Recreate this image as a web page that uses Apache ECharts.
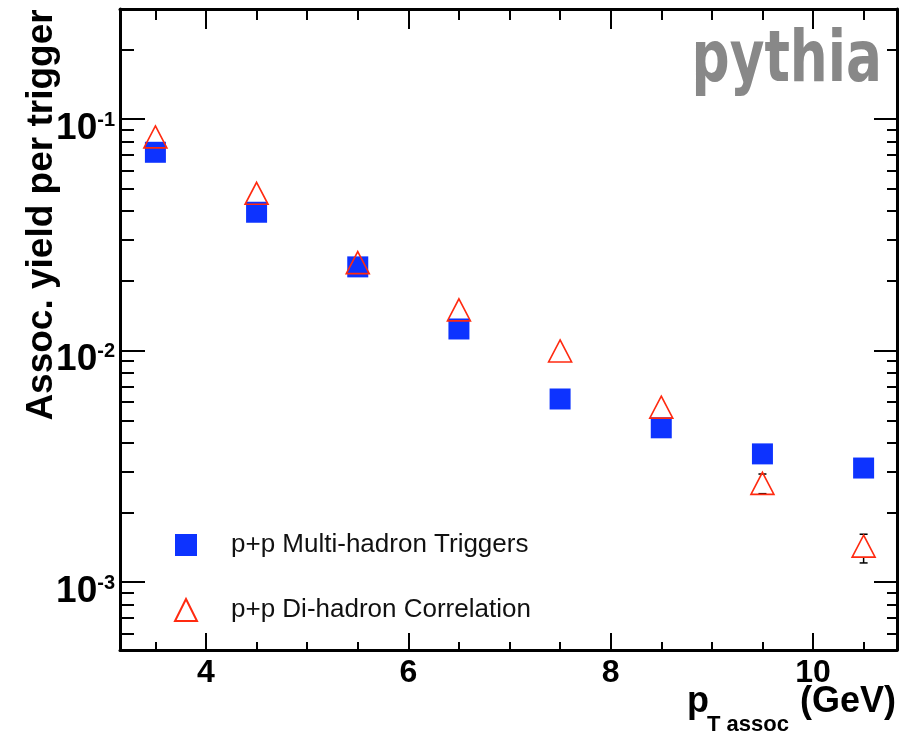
<!DOCTYPE html>
<html>
<head>
<meta charset="utf-8">
<script src="https://cdn.jsdelivr.net/npm/echarts@6/dist/echarts.min.js"></script>
<style>
html, body { margin: 0; padding: 0; background: #fff; }
#main { width: 909px; height: 733px; }
</style>
</head>
<body>
<div id="main"></div>
<script>
// pT assoc bin centres (GeV)
var ptAssoc = [3.5, 4.5, 5.5, 6.5, 7.5, 8.5, 9.5, 10.5];
// p+p Multi-hadron Triggers
var multiHadron = [0.0719, 0.0396, 0.0230, 0.0124, 0.00618, 0.00464, 0.00358, 0.00311];
// p+p Di-hadron Correlation
var diHadron = [0.0838, 0.0478, 0.0240, 0.0150, 0.00997, 0.00570, 0.00267, 0.00143];
var diHadronErrLow = [0, 0, 0, 0, 0, 0, 0.00026, 0.00022];
var diHadronErrHigh = [0, 0, 0, 0, 0, 0, 0.00026, 0.00018];

var seriesNames = ['p+p Multi-hadron Triggers', 'p+p Di-hadron Correlation'];
var xMajor = [4, 6, 8, 10];
var xMinor = [3.5, 4.5, 5, 5.5, 6.5, 7, 7.5, 8.5, 9, 9.5, 10.5];
var xMin = 3.15, xMax = 10.83;
var yMin = 5.09e-4, yMax = 0.299;

// minor log ticks (2..9 x 10^n), placed on a linear axis in log10 space
var yMinorLog = [];
for (var n = -4; n <= -1; n++) {
    for (var k = 2; k <= 9; k++) {
        var v = k * Math.pow(10, n);
        if (v > yMin && v < yMax) yMinorLog.push(Math.log10(v));
    }
}

var FONT = 'Liberation Sans';
var black = '#000';

var myChart = echarts.init(document.getElementById('main'));

function tickAxis(extra) {
    var base = {
        min: xMin, max: xMax, type: 'value',
        axisLine: { show: false, onZero: false, lineStyle: { color: black, width: 3 } },
        axisTick: { show: true, inside: true, lineStyle: { color: black, width: 2 } },
        axisLabel: { show: false },
        splitLine: { show: false }
    };
    return echarts.util.merge(base, extra, true);
}

var scatterMulti = ptAssoc.map(function (x, i) { return [x, multiHadron[i]]; });
var scatterDi = ptAssoc.map(function (x, i) { return [x, diHadron[i]]; });
var errData = [];
ptAssoc.forEach(function (x, i) {
    if (diHadronErrLow[i] > 0 || diHadronErrHigh[i] > 0) {
        errData.push([x, diHadron[i], diHadron[i] - diHadronErrLow[i], diHadron[i] + diHadronErrHigh[i]]);
    }
});

var option = {
    backgroundColor: '#fff',
    animation: false,
    grid: { left: 120, right: 12, top: 9, bottom: 83, containLabel: false, outerBoundsMode: 'none' },
    xAxis: [
        tickAxis({
            position: 'bottom',
            axisLine: { show: true },
            axisTick: { length: 17, customValues: xMajor },
            axisLabel: {
                show: true, customValues: xMajor, margin: 7,
                fontFamily: FONT, fontWeight: 'bold', fontSize: 32, color: black
            }
        }),
        tickAxis({ position: 'bottom', axisTick: { length: 8, customValues: xMinor } }),
        tickAxis({ position: 'top', axisLine: { show: true }, axisTick: { length: 20, customValues: xMajor } }),
        tickAxis({ position: 'top', axisTick: { length: 11, customValues: xMinor } })
    ],
    yAxis: [
        {
            type: 'log', logBase: 10, position: 'left', min: yMin, max: yMax,
            axisLine: { show: true, onZero: false, lineStyle: { color: black, width: 3 } },
            axisTick: { show: true, inside: true, length: 25, lineStyle: { color: black, width: 2 } },
            axisLabel: {
                margin: 5, showMinLabel: false, showMaxLabel: false,
                padding: [19, 0, 0, 0],
                formatter: function (v) {
                    return '{b|10}{s|' + Math.round(Math.log10(v)) + '}';
                },
                rich: {
                    b: { fontFamily: FONT, fontWeight: 'bold', fontSize: 37, lineHeight: 37, color: black },
                    s: { fontFamily: FONT, fontWeight: 'bold', fontSize: 20, lineHeight: 20, color: black, verticalAlign: 'top' }
                }
            },
            splitLine: { show: false }
        },
        {
            type: 'value', position: 'left', min: Math.log10(yMin), max: Math.log10(yMax),
            axisLine: { show: false, onZero: false },
            axisTick: { show: true, inside: true, length: 14, customValues: yMinorLog, lineStyle: { color: black, width: 2 } },
            axisLabel: { show: false },
            splitLine: { show: false }
        },
        {
            type: 'log', logBase: 10, position: 'right', min: yMin, max: yMax,
            axisLine: { show: true, onZero: false, lineStyle: { color: black, width: 3 } },
            axisTick: { show: true, inside: true, length: 23, lineStyle: { color: black, width: 2 } },
            axisLabel: { show: false },
            splitLine: { show: false }
        },
        {
            type: 'value', position: 'right', min: Math.log10(yMin), max: Math.log10(yMax),
            axisLine: { show: false, onZero: false },
            axisTick: { show: true, inside: true, length: 10, customValues: yMinorLog, lineStyle: { color: black, width: 2 } },
            axisLabel: { show: false },
            splitLine: { show: false }
        }
    ],
    legend: {
        orient: 'vertical',
        left: 169, top: 527,
        itemWidth: 22, itemHeight: 22, itemGap: 39,
        selectedMode: false,
        textStyle: { fontFamily: FONT, fontSize: 26, color: '#111', padding: [0, 0, 0, 29] },
        data: [
            { name: seriesNames[0], icon: 'rect' },
            { name: seriesNames[1], icon: 'triangle' }
        ]
    },
    graphic: [
        {
            type: 'text', x: 42, y: 215, rotation: Math.PI / 2,
            style: {
                text: 'Assoc. yield per trigger', align: 'center', verticalAlign: 'middle',
                fontFamily: FONT, fontWeight: 'bold', fontSize: 37, fill: black
            }
        },
        {
            type: 'text', x: 687, y: 702,
            style: { text: 'p', align: 'left', verticalAlign: 'middle', fontFamily: FONT, fontWeight: 'bold', fontSize: 36, fill: black }
        },
        {
            type: 'text', x: 707, y: 725,
            style: { text: 'T assoc', align: 'left', verticalAlign: 'middle', fontFamily: FONT, fontWeight: 'bold', fontSize: 22, fill: black }
        },
        {
            type: 'text', x: 896, y: 702,
            style: { text: '(GeV)', align: 'right', verticalAlign: 'middle', fontFamily: FONT, fontWeight: 'bold', fontSize: 36, fill: black }
        },
        {
            type: 'text', x: 882, y: 62, scaleX: 0.74,
            style: { text: 'pythia', align: 'right', verticalAlign: 'middle', fontFamily: 'DejaVu Sans', fontWeight: 'bold', fontSize: 72, fill: '#888' }
        }
    ],
    series: [
        {
            name: seriesNames[0], type: 'scatter', xAxisIndex: 0, yAxisIndex: 0,
            symbol: 'rect', symbolSize: 21,
            itemStyle: { color: '#0d33ff', opacity: 1 },
            data: scatterMulti
        },
        {
            name: seriesNames[1], type: 'scatter', xAxisIndex: 0, yAxisIndex: 0,
            symbol: 'triangle', symbolSize: [23, 22],
            itemStyle: { color: 'transparent', borderColor: '#ff2a10', borderWidth: 1.6, opacity: 1 },
            data: scatterDi
        },
        {
            name: 'err', type: 'custom', xAxisIndex: 0, yAxisIndex: 0,
            data: errData,
            renderItem: function (params, api) {
                var c = api.coord([api.value(0), api.value(1)]);
                var lo = api.coord([api.value(0), api.value(2)]);
                var hi = api.coord([api.value(0), api.value(3)]);
                var half = 11, cap = 4;
                var st = { stroke: black, lineWidth: 1.5 };
                var kids = [];
                if (hi[1] < c[1] - half) kids.push({ type: 'line', shape: { x1: c[0], y1: hi[1], x2: c[0], y2: c[1] - half }, style: st });
                if (lo[1] > c[1] + half) kids.push({ type: 'line', shape: { x1: c[0], y1: c[1] + half, x2: c[0], y2: lo[1] }, style: st });
                kids.push({ type: 'line', shape: { x1: c[0] - cap, y1: hi[1], x2: c[0] + cap, y2: hi[1] }, style: st });
                kids.push({ type: 'line', shape: { x1: c[0] - cap, y1: lo[1], x2: c[0] + cap, y2: lo[1] }, style: st });
                return { type: 'group', children: kids };
            }
        }
    ]
};
myChart.setOption(option);
</script>
</body>
</html>
